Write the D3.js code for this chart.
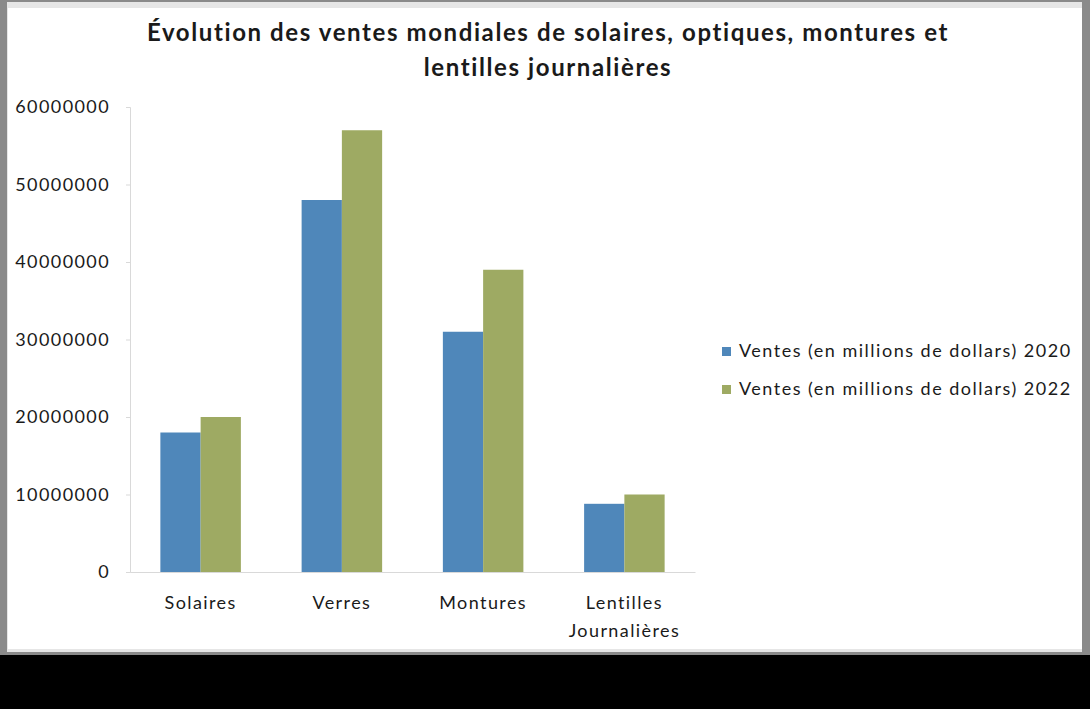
<!DOCTYPE html>
<html>
<head>
<meta charset="utf-8">
<script src="https://cdn.jsdelivr.net/npm/d3@7"></script>
<style>
  body { margin: 0; background: #000; }
  text { font-family: Lato, "Open Sans", sans-serif; fill: #1a1a1a; }
</style>
</head>
<body>
<svg id="chart"></svg>
<script>
var categories = ['Solaires', 'Verres', 'Montures', 'Lentilles Journalières']
var seriesNames = ['Ventes (en millions de dollars) 2020', 'Ventes (en millions de dollars) 2022']
var ventes2020 = [18000000, 48000000, 31000000, 8800000]
var ventes2022 = [20000000, 57000000, 39000000, 10000000]
var yTicks = [0, 10000000, 20000000, 30000000, 40000000, 50000000, 60000000]
var titleLines = ['Évolution des ventes mondiales de solaires, optiques, montures et', 'lentilles journalières']

var colors = ['#4f87ba', '#9eaa63']

var width = 1090, height = 709

var svg = d3.select('#chart')
  .attr('width', width)
  .attr('height', height)

// frame of the chart window
svg.append('rect').attr('x', 0).attr('y', 0).attr('width', width).attr('height', 655).attr('fill', '#8a8a8a')
svg.append('rect').attr('x', 7).attr('y', 2).attr('width', 1075).attr('height', 650).attr('fill', '#e6e6e6')
svg.append('rect').attr('x', 8).attr('y', 8).attr('width', 1074).attr('height', 641).attr('fill', '#fff')

// title
svg.append('text')
  .attr('x', 548)
  .attr('text-anchor', 'middle')
  .style('font-weight', 'bold')
  .style('font-size', '24px')
  .style('letter-spacing', '1.6px')
  .selectAll('tspan')
  .data(titleLines)
  .enter()
  .append('tspan')
    .attr('x', 548)
    .attr('y', (d, i) => 41 + i * 35)
    .text(d => d)

var data = categories.map((c, i) => ({cat: c, values: [ventes2020[i], ventes2022[i]]}))

var x = d3.scaleBand()
  .domain(categories)
  .range([130, 695])
  .paddingInner(0.43)
  .paddingOuter(0.215)

var xs = d3.scaleBand()
  .domain([0, 1])
  .range([0, x.bandwidth()])

var y = d3.scaleLinear()
  .domain([0, 60000000])
  .range([572, 107])

// y axis
var yAxis = svg.append('g')
  .attr('transform', 'translate(130,0)')
  .call(d3.axisLeft(y).tickValues(yTicks).tickFormat(d3.format('d')).tickSize(4).tickPadding(16))
yAxis.select('.domain').attr('stroke', '#d9d9d9')
yAxis.selectAll('.tick line').attr('stroke', '#d9d9d9')
yAxis.selectAll('.tick text')
  .style('font-size', '18px')
  .style('letter-spacing', '1.4px')
  .style('font-family', 'Lato, sans-serif')
  .attr('fill', '#1a1a1a')

// bars
svg.append('g')
  .selectAll('g')
  .data(data)
  .enter()
  .append('g')
    .attr('transform', d => 'translate(' + x(d.cat) + ',0)')
  .selectAll('rect')
  .data(d => d.values)
  .enter()
  .append('rect')
    .attr('x', (d, i) => xs(i))
    .attr('y', d => y(d))
    .attr('width', xs.bandwidth())
    .attr('height', d => y(0) - y(d))
    .attr('fill', (d, i) => colors[i])

// x axis
var xAxis = svg.append('g')
  .attr('transform', 'translate(0,572)')
  .call(d3.axisBottom(x).tickSize(0).tickPadding(24))
xAxis.select('.domain').attr('stroke', '#d9d9d9')
xAxis.selectAll('.tick text')
  .style('font-size', '18px')
  .style('letter-spacing', '1.4px')
  .style('font-family', 'Lato, sans-serif')
  .attr('fill', '#1a1a1a')
  .each(function(d) {
    var words = d.split(' ')
    if (words.length < 2) return
    var t = d3.select(this).text(null)
    words.forEach((w, i) => {
      t.append('tspan').attr('x', 0).attr('dy', i == 0 ? '0.71em' : '1.55em').text(w)
    })
  })

// legend
var legend = svg.append('g')
  .selectAll('g')
  .data(seriesNames)
  .enter()
  .append('g')
    .attr('transform', (d, i) => 'translate(722,' + (351 + i * 38) + ')')

legend.append('rect')
  .attr('x', 0).attr('y', -4)
  .attr('width', 9).attr('height', 9)
  .attr('fill', (d, i) => colors[i])

legend.append('text')
  .attr('x', 17)
  .attr('dy', '0.35em')
  .style('font-size', '18px')
  .style('letter-spacing', '1.5px')
  .text(d => d)
</script>
</body>
</html>
